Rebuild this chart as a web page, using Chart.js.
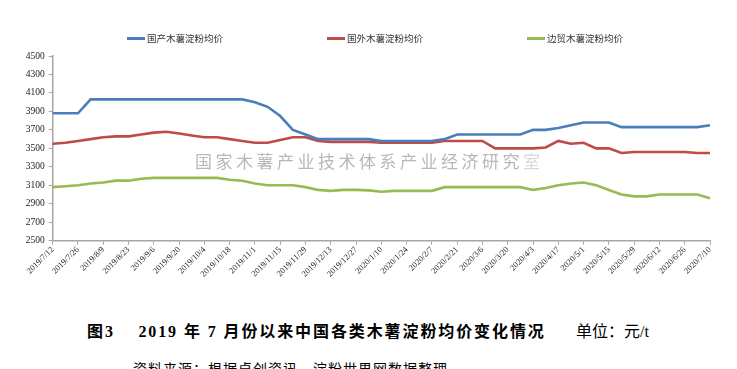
<!DOCTYPE html>
<html>
<head>
<meta charset="utf-8">
<script src="https://cdn.jsdelivr.net/npm/chart.js@4/dist/chart.umd.min.js"></script>
<style>
    body { margin: 0; background: #fff; width: 737px; height: 369px; overflow: hidden; position: relative; }
    #wrap { position: absolute; left: 0; top: 0; width: 737px; height: 290px; }
    .legend { position: absolute; top: 31px; font: 9.5px "Noto Sans CJK SC", sans-serif; color: #333; white-space: nowrap; }
    .legend i { display: inline-block; width: 18px; height: 3px; vertical-align: middle; margin-right: 2px; position: relative; top: -1px; }
    #mark { position: absolute; left: 195px; top: 148px; font: 17px "Noto Sans CJK SC", sans-serif; letter-spacing: 3.5px; color: #b8b8b8; white-space: nowrap; }
    #mark span { color: #d8d8d8; }
    #caption { position: absolute; left: 87px; top: 318px; font: bold 16px "Liberation Serif", "Noto Sans CJK SC", serif; color: #000; white-space: nowrap; letter-spacing: 1.9px; }
    #unit { position: absolute; left: 576px; top: 318px; font: 16px "Liberation Serif", "Noto Sans CJK SC", serif; color: #000; white-space: nowrap; }
    #source { position: absolute; left: 133px; top: 358px; font: 14px "Noto Sans CJK SC", serif; color: #000; white-space: nowrap; letter-spacing: 1px; }
</style>
</head>
<body>
<div id="wrap"><canvas id="priceChart"></canvas></div>
<div id="legendBox"></div>
<div id="mark">国家木薯产业技术体系产业经济研究<span>室</span></div>
<div id="caption">图3&nbsp;&nbsp;&nbsp;&nbsp;2019 年 7 月份以来中国各类木薯淀粉均价变化情况</div>
<div id="unit">单位：元/t</div>
<div id="source">资料来源：根据卓创资讯、淀粉世界网数据整理</div>
<script>
// weekly dates
let weeks = [
    "2019/7/12", "2019/7/19", "2019/7/26", "2019/8/2", "2019/8/9", "2019/8/16", "2019/8/23", "2019/8/30",
    "2019/9/6", "2019/9/13", "2019/9/20", "2019/9/27", "2019/10/4", "2019/10/11", "2019/10/18", "2019/10/25",
    "2019/11/1", "2019/11/8", "2019/11/15", "2019/11/22", "2019/11/29", "2019/12/6", "2019/12/13", "2019/12/20",
    "2019/12/27", "2020/1/3", "2020/1/10", "2020/1/17", "2020/1/24", "2020/1/31", "2020/2/7", "2020/2/14",
    "2020/2/21", "2020/2/28", "2020/3/6", "2020/3/13", "2020/3/20", "2020/3/27", "2020/4/3", "2020/4/10",
    "2020/4/17", "2020/4/24", "2020/5/1", "2020/5/8", "2020/5/15", "2020/5/22", "2020/5/29", "2020/6/5",
    "2020/6/12", "2020/6/19", "2020/6/26", "2020/7/3", "2020/7/10"
];

let domestic = [
    3880, 3880, 3880, 4030, 4030, 4030, 4030, 4030, 4030, 4030, 4030, 4030, 4030, 4030, 4030, 4030,
    4000, 3950, 3850, 3700, 3650, 3600, 3600, 3600, 3600, 3600, 3580, 3580, 3580, 3580, 3580, 3600,
    3650, 3650, 3650, 3650, 3650, 3650, 3700, 3700, 3720, 3750, 3780, 3780, 3780, 3730, 3730, 3730,
    3730, 3730, 3730, 3730, 3750
];

let imported = [
    3550, 3560, 3580, 3600, 3620, 3630, 3630, 3650, 3670, 3680, 3660, 3640, 3620, 3620, 3600, 3580,
    3560, 3560, 3590, 3620, 3620, 3580, 3570, 3570, 3570, 3570, 3560, 3560, 3560, 3560, 3560, 3580,
    3580, 3580, 3580, 3500, 3500, 3500, 3500, 3510, 3580, 3550, 3560, 3500, 3500, 3450, 3460, 3460,
    3460, 3460, 3460, 3450, 3450
];

let border = [
    3080, 3090, 3100, 3120, 3130, 3150, 3150, 3170, 3180, 3180, 3180, 3180, 3180, 3180, 3160, 3150,
    3120, 3100, 3100, 3100, 3080, 3050, 3040, 3050, 3050, 3045, 3030, 3040, 3040, 3040, 3040, 3080,
    3080, 3080, 3080, 3080, 3080, 3080, 3050, 3070, 3100, 3120, 3130, 3100, 3050, 3000, 2980, 2980,
    3000, 3000, 3000, 3000, 2960
];

let seriesNames = ["国产木薯淀粉均价", "国外木薯淀粉均价", "边贸木薯淀粉均价"];
let seriesColors = ["#4a7ebb", "#be4b48", "#98b954"];
let legendLeft = [127, 327, 527];

let yTicks = [2500, 2700, 2900, 3100, 3300, 3500, 3700, 3900, 4100, 4300, 4500];

// legend
let legendBox = document.getElementById("legendBox");
seriesNames.forEach(function(name, i) {
    let div = document.createElement("div");
    div.className = "legend";
    div.style.left = legendLeft[i] + "px";
    div.innerHTML = '<i style="background:' + seriesColors[i] + '"></i>' + name;
    legendBox.appendChild(div);
});

let axisColor = "#a6a6a6";
let ctx = document.getElementById("priceChart").getContext("2d");

let chart = new Chart(ctx, {
    type: "line",
    data: {
        labels: weeks,
        datasets: [domestic, imported, border].map(function(values, i) {
            return {
                label: seriesNames[i],
                data: values,
                borderColor: seriesColors[i],
                backgroundColor: seriesColors[i],
                borderWidth: 2.6,
                pointRadius: 0,
                tension: 0
            };
        })
    },
    options: {
        responsive: true,
        maintainAspectRatio: false,
        animation: false,
        layout: { padding: { left: 0, right: 27, top: 56, bottom: 0 } },
        plugins: {
            legend: { display: false },
            tooltip: { enabled: false }
        },
        scales: {
            x: {
                grid: { display: true, drawOnChartArea: false, drawTicks: true, tickLength: 4, color: axisColor },
                border: { color: axisColor, width: 1.5 },
                ticks: {
                    autoSkip: false,
                    maxRotation: 45,
                    minRotation: 45,
                    padding: 0,
                    color: "#222",
                    font: { family: "Liberation Serif", size: 8.5 }
                },
                afterBuildTicks: function(axis) {
                    axis.ticks = axis.ticks.filter(function(t, i) { return i % 2 === 0; });
                },
                afterFit: function(axis) { axis.height = 49.3; }
            },
            y: {
                min: 2500,
                max: 4500,
                grid: { display: true, drawOnChartArea: false, drawTicks: true, tickLength: 4, color: axisColor },
                border: { color: axisColor, width: 1.5 },
                afterBuildTicks: function(axis) {
                    axis.ticks = yTicks.map(function(v) { return { value: v }; });
                },
                ticks: {
                    padding: 4,
                    color: "#222",
                    font: { family: "Liberation Serif", size: 9.5 },
                    callback: function(value) { return String(value); }
                },
                afterFit: function(axis) { axis.width = 52.7; }
            }
        }
    }
});
</script>
</body>
</html>
